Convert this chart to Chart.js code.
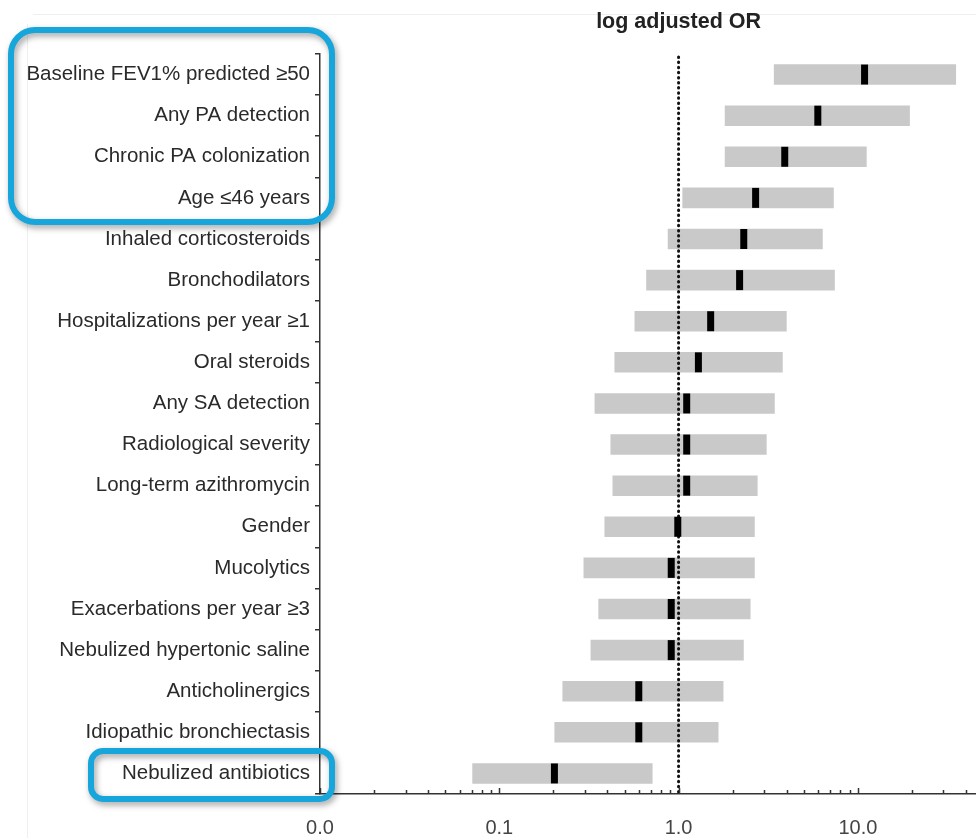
<!doctype html>
<html lang="en">
<head>
    <meta charset="utf-8">
    <title>log adjusted OR</title>
    <style>
        html, body { margin: 0; padding: 0; background: #fff; overflow: hidden; }
        #wrap { width: 976px; height: 838px; }
        canvas { display: block; }
    </style>
</head>
<body>
    <div id="wrap"><canvas id="myChart" width="976" height="838"></canvas></div>

    <script src="https://cdn.jsdelivr.net/npm/chart.js"></script>
    <script>
        // categories, top to bottom
        var factors = [
            'Baseline FEV1% predicted \u226550',
            'Any PA detection',
            'Chronic PA colonization',
            'Age \u226446 years',
            'Inhaled corticosteroids',
            'Bronchodilators',
            'Hospitalizations per year \u22651',
            'Oral steroids',
            'Any SA detection',
            'Radiological severity',
            'Long-term azithromycin',
            'Gender',
            'Mucolytics',
            'Exacerbations per year \u22653',
            'Nebulized hypertonic saline',
            'Anticholinergics',
            'Idiopathic bronchiectasis',
            'Nebulized antibiotics'
        ];
        // adjusted odds ratio and 95% CI
        var orValues = [10.9, 5.98, 3.91, 2.69, 2.31, 2.19, 1.51, 1.29, 1.11, 1.11, 1.11, 0.99, 0.91, 0.91, 0.91, 0.60, 0.60, 0.203];
        var ciLow    = [3.40, 1.81, 1.81, 1.05, 0.87, 0.66, 0.568, 0.439, 0.34, 0.417, 0.428, 0.386, 0.295, 0.357, 0.323, 0.225, 0.203, 0.0707];
        var ciHigh   = [35.3, 19.5, 11.2, 7.34, 6.37, 7.44, 4.01, 3.81, 3.44, 3.10, 2.76, 2.66, 2.66, 2.52, 2.31, 1.78, 1.67, 0.716];
        // x axis
        var xMin = 0.01, xMax = 45.6;
        var xTickValues = [0.01, 0.1, 1, 10];
        var titleText = 'log adjusted OR';

        var FONT = '"Liberation Sans", Arial, Helvetica, sans-serif';

        function roundBox(ctx, x, y, w, h, r) {
            ctx.beginPath();
            ctx.moveTo(x + r, y);
            ctx.lineTo(x + w - r, y);
            ctx.arcTo(x + w, y, x + w, y + r, r);
            ctx.lineTo(x + w, y + h - r);
            ctx.arcTo(x + w, y + h, x + w - r, y + h, r);
            ctx.lineTo(x + r, y + h);
            ctx.arcTo(x, y + h, x, y + h - r, r);
            ctx.lineTo(x, y + r);
            ctx.arcTo(x, y, x + r, y, r);
            ctx.closePath();
        }

        var extras = {
            id: 'extras',
            beforeDraw: function (chart) {
                var ctx = chart.ctx;
                ctx.save();
                ctx.strokeStyle = '#efefef';
                ctx.lineWidth = 1;
                ctx.beginPath();
                ctx.moveTo(33, 14.5); ctx.lineTo(976, 14.5);
                ctx.moveTo(27.5, 24); ctx.lineTo(27.5, 838);
                ctx.stroke();
                ctx.restore();
            },
            afterDatasetDraw: function (chart, args) {
                // dotted reference line at OR = 1, over the CI bars
                if (args.index !== 0) return;
                var ctx = chart.ctx, area = chart.chartArea;
                var px = chart.scales.x.getPixelForValue(1);
                ctx.save();
                ctx.strokeStyle = '#111';
                ctx.lineWidth = 3;
                ctx.lineCap = 'round';
                ctx.setLineDash([0.5, 4.6]);
                ctx.beginPath();
                ctx.moveTo(px, area.top + 3);
                ctx.lineTo(px, area.bottom);
                ctx.stroke();
                ctx.restore();
            },
            afterDraw: function (chart) {
                var ctx = chart.ctx, area = chart.chartArea, x = chart.scales.x;
                ctx.save();

                // title
                ctx.fillStyle = '#222';
                ctx.font = 'bold 21.5px ' + FONT;
                ctx.textAlign = 'center';
                ctx.textBaseline = 'middle';
                ctx.fillText(titleText, x.getPixelForValue(1), 22);

                // log ticks pointing into the plot
                ctx.strokeStyle = '#333';
                ctx.lineWidth = 1.5;
                ctx.beginPath();
                for (var e = -2; e <= 1; e++) {
                    for (var m = 1; m <= 9; m++) {
                        var v = m * Math.pow(10, e);
                        if (v < xMin || v > xMax) continue;
                        var px = Math.round(x.getPixelForValue(v)) + 0.5;
                        var len = m === 1 ? 6 : 4;
                        ctx.moveTo(px, area.bottom);
                        ctx.lineTo(px, area.bottom - len);
                    }
                }
                ctx.stroke();

                // blue highlight boxes
                ctx.strokeStyle = '#16a6dc';
                ctx.lineWidth = 6;
                ctx.shadowColor = 'rgba(0,0,0,0.38)';
                ctx.shadowBlur = 6;
                ctx.shadowOffsetX = 2;
                ctx.shadowOffsetY = 3;
                roundBox(ctx, 11, 30, 321, 192, 24);
                ctx.stroke();
                roundBox(ctx, 91, 751, 241, 48, 12);
                ctx.stroke();
                ctx.restore();
            }
        };

        new Chart('myChart', {
            type: 'bar',
            data: {
                labels: factors,
                datasets: [{
                    type: 'bar',
                    data: ciLow.map(function (lo, i) { return [lo, ciHigh[i]]; }),
                    backgroundColor: '#c9c9c9',
                    borderWidth: 0,
                    barPercentage: 0.5,
                    categoryPercentage: 1,
                    order: 2
                }, {
                    type: 'line',
                    data: orValues,
                    showLine: false,
                    pointStyle: 'line',
                    rotation: 90,
                    pointRadius: 10,
                    pointHoverRadius: 10,
                    pointBorderWidth: 7,
                    pointBorderColor: '#000',
                    pointBackgroundColor: '#000',
                    clip: false,
                    order: 1
                }]
            },
            plugins: [extras],
            options: {
                indexAxis: 'y',
                responsive: false,
                animation: false,
                events: [],
                layout: { autoPadding: false, padding: { top: 54, right: 0, bottom: 0, left: 0 } },
                plugins: {
                    legend: { display: false },
                    tooltip: { enabled: false },
                    title: { display: false }
                },
                scales: {
                    x: {
                        type: 'logarithmic',
                        min: xMin,
                        max: xMax,
                        afterBuildTicks: function (scale) {
                            scale.ticks = xTickValues.map(function (v) { return { value: v }; });
                        },
                        afterFit: function (scale) {
                            scale.height = 44;
                            scale.paddingLeft = 0;
                            scale.paddingRight = 0;
                        },
                        grid: { display: false, drawTicks: false },
                        border: { display: true, color: '#333', width: 1.5 },
                        ticks: {
                            autoSkip: false,
                            maxRotation: 0,
                            padding: 22,
                            color: '#444',
                            font: { family: FONT, size: 20 },
                            callback: function (v) { return Number(v).toFixed(1); }
                        }
                    },
                    y: {
                        type: 'category',
                        offset: true,
                        afterFit: function (scale) { scale.width = 320; },
                        grid: {
                            offset: true,
                            drawOnChartArea: false,
                            drawTicks: true,
                            tickLength: 5,
                            color: '#333',
                            lineWidth: 1.5
                        },
                        border: { display: true, color: '#333', width: 1.5 },
                        ticks: {
                            padding: 5,
                            color: '#2a2a2a',
                            font: { family: FONT, size: 20.5 }
                        }
                    }
                }
            }
        });
    </script>
</body>
</html>
